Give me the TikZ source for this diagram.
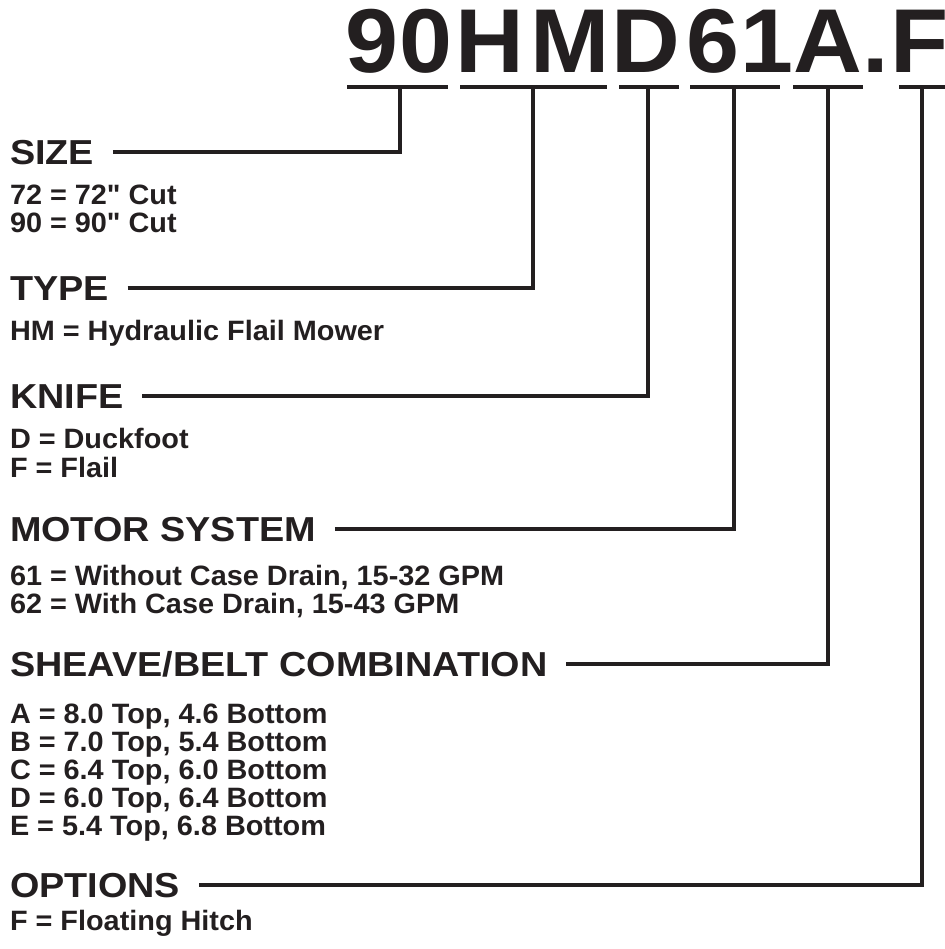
\documentclass[tikz,border=0pt]{standalone}
\usepackage{fontspec}
\setmainfont{Liberation Sans}
\newfontfamily\titlefont[FakeStretch=1.05]{Liberation Sans}
\newfontfamily\headfont[FakeStretch=1.09]{Liberation Sans}
\newfontfamily\bodyfont[FakeStretch=1.03,Ligatures=TeXOff]{Liberation Sans}
\definecolor{ink}{HTML}{231F20}
\begin{document}
\begin{tikzpicture}[x=0.75pt,y=-0.75pt,
  every node/.style={inner sep=0pt, outer sep=0pt, text=ink},
  big/.style={font=\titlefont\fontsize{68}{68}\selectfont\bfseries, anchor=base},
  head/.style={font=\headfont\fontsize{26}{26}\selectfont\bfseries, anchor=base west},
  body/.style={font=\bodyfont\fontsize{21}{21}\selectfont\bfseries, anchor=base west},
  rule/.style={draw=ink, line width=3pt},
  lead/.style={draw=ink, line width=3pt, line join=miter}]
\useasboundingbox (0,0) rectangle (945,949);
% title letters
\node[big] (c9) at (371.5,73) {9};
\node[big] (c0) at (426,73) {0};
\node[big] (cH) at (489.5,73) {H};
\node[big] (cM) at (570,73) {M};
\node[big] (cD) at (646,73) {D};
\node[big] (c6) at (713,73) {6};
\node[big] (c1) at (767,73) {1};
\node[big] (cA) at (828,73) {A};
\node[big] (cdot) at (876,73) {.};
\node[big] (cF) at (920,73) {F};
% underlines
\draw[rule] (347,87) -- (448,87);
\draw[rule] (460,87) -- (607,87);
\draw[rule] (619,87) -- (679,87);
\draw[rule] (690,87) -- (780,87);
\draw[rule] (793,87) -- (863,87);
\draw[rule] (899,87) -- (945,87);
\coordinate (t1) at (400,87);
\coordinate (t2) at (533,87);
\coordinate (t3) at (648,87);
\coordinate (t4) at (734,87);
\coordinate (t5) at (828,87);
\coordinate (t6) at (922,87);
% headings and bodies
\node[head] (hsize) at (10,164) {SIZE};
\node[body] (b1a) at (10,204) {72 = 72" Cut};
\node[body] (b1b) at (10,232) {90 = 90" Cut};
\node[head] (htype) at (10,300) {TYPE};
\node[body] (b2a) at (10,340) {HM = Hydraulic Flail Mower};
\node[head] (hknife) at (10,408) {KNIFE};
\node[body] (b3a) at (10,448) {D = Duckfoot};
\node[body] (b3b) at (10,477) {F = Flail};
\node[head] (hmotor) at (10,541) {MOTOR SYSTEM};
\node[body] (b4a) at (10,585) {61 = Without Case Drain, 15-32 GPM};
\node[body] (b4b) at (10,613) {62 = With Case Drain, 15-43 GPM};
\node[head] (hsheave) at (10,676) {SHEAVE/BELT COMBINATION};
\node[body] (b5a) at (10,723) {A = 8.0 Top, 4.6 Bottom};
\node[body] (b5b) at (10,751) {B = 7.0 Top, 5.4 Bottom};
\node[body] (b5c) at (10,779) {C = 6.4 Top, 6.0 Bottom};
\node[body] (b5d) at (10,807) {D = 6.0 Top, 6.4 Bottom};
\node[body] (b5e) at (10,835) {E = 5.4 Top, 6.8 Bottom};
\node[head] (hopt) at (10,897) {OPTIONS};
\node[body] (b6a) at (10,930) {F = Floating Hitch};
% leaders
\draw[lead] ([shift={(19,-12)}]hsize.base east) -| (t1);
\draw[lead] ([shift={(19,-12)}]htype.base east) -| (t2);
\draw[lead] ([shift={(19,-12)}]hknife.base east) -| (t3);
\draw[lead] ([shift={(19,-12)}]hmotor.base east) -| (t4);
\draw[lead] ([shift={(19,-12)}]hsheave.base east) -| (t5);
\draw[lead] ([shift={(19,-12)}]hopt.base east) -| (t6);
\end{tikzpicture}
\end{document}
